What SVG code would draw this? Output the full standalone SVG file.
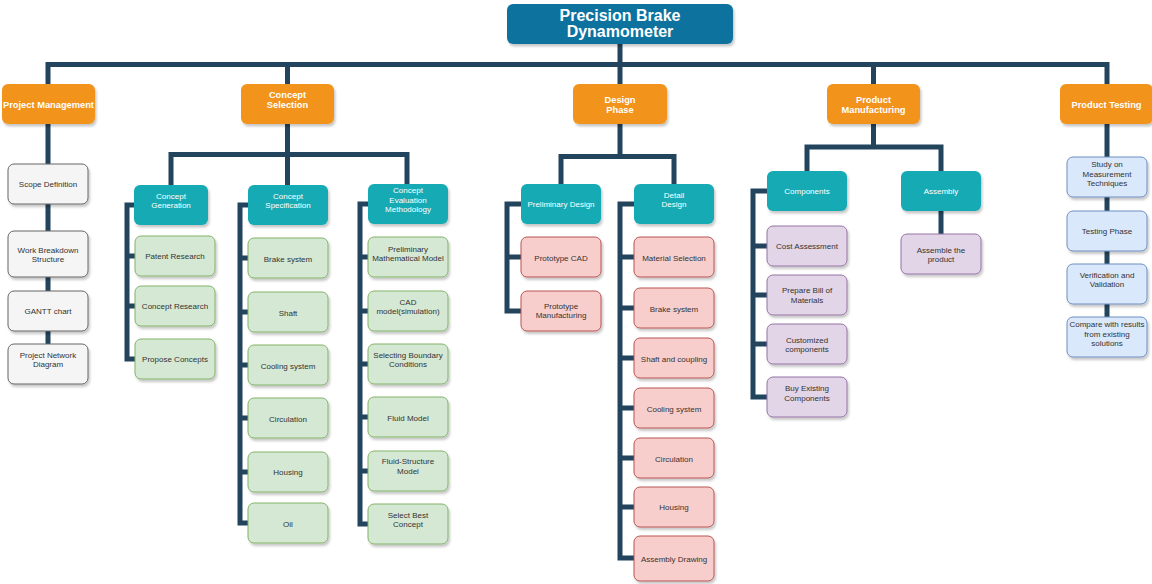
<svg xmlns="http://www.w3.org/2000/svg" width="1152" height="584" viewBox="0 0 1152 584">
<defs>
<filter id="sh" x="-10%" y="-10%" width="130%" height="140%">
<feDropShadow dx="1.5" dy="2.5" stdDeviation="1.2" flood-color="#000" flood-opacity="0.22"/>
</filter>
<style>
text{font-family:"Liberation Sans",Arial,Helvetica,sans-serif;text-anchor:middle}
.root rect{fill:#10739E;filter:url(#sh)}
.root text{fill:#fff;font-size:16px;font-weight:bold}
.l1 rect{fill:#F2931E;filter:url(#sh)}
.l1 text{fill:#fff;font-size:9.3px;font-weight:bold}
.l2 rect{fill:#12AAB5;filter:url(#sh)}
.l2 text{fill:#fff;font-size:8px}
.leaf text{fill:#333;font-size:8px}
.leaf rect{filter:url(#sh);stroke-width:1}
.g rect{fill:#f5f5f5;stroke:#666}
.gr rect{fill:#d5e8d4;stroke:#82b366}
.r rect{fill:#f8cecc;stroke:#b85450}
.p rect{fill:#e1d5e7;stroke:#9673a6}
.b rect{fill:#dae8fc;stroke:#6c8ebf}
#connectors path{fill:none;stroke:#23445D;stroke-width:5;stroke-linejoin:miter;stroke-linecap:butt}
</style>
</defs>
<rect width="1152" height="584" fill="#fff"/>
<g id="connectors">
<path d="M620,44 V84"/>
<path d="M48,84 V64.5 H1107 V84"/>
<path d="M287.5,64.5 V84 M873.5,64.5 V84"/>
<path d="M48,124 V344"/>
<path d="M287.5,124 V185"/>
<path d="M171,185 V154.5 H407 V184"/>
<path d="M134,205 H127 V359 H135 M127,256 H135 M127,306 H135"/>
<path d="M248,205 H240 V523 H248 M240,258 H248 M240,312 H248 M240,365 H248 M240,418 H248 M240,472 H248"/>
<path d="M368,204 H360 V524 H368 M360,257 H368 M360,311 H368 M360,364 H368 M360,417 H368 M360,471 H368"/>
<path d="M620,124 V156.5"/>
<path d="M561,184 V156.5 H674 V184"/>
<path d="M521,204 H507 V311 H521 M507,257 H521"/>
<path d="M634,204 H620 V558 H634 M620,257 H634 M620,308 H634 M620,358 H634 M620,408 H634 M620,458 H634 M620,507 H634"/>
<path d="M873.5,124 V147"/>
<path d="M807,171 V147 H941 V171"/>
<path d="M767,191 H753 V397 H767 M753,246 H767 M753,295 H767 M753,344 H767"/>
<path d="M941,211 V234"/>
<path d="M1107,124 V317"/>
</g>

<g id="root" class="root"><rect x="507" y="4" width="226" height="40" rx="6"/><text x="620" y="21">Precision Brake</text><text x="620" y="37">Dynamometer</text></g>

<g id="project-management" class="l1"><rect x="2" y="84" width="93" height="40" rx="6"/><text x="48.5" y="108">Project Management</text></g>
<g id="concept-selection" class="l1"><rect x="241" y="84" width="93" height="40" rx="6"/><text x="287.5" y="97.5">Concept</text><text x="287.5" y="108">Selection</text></g>
<g id="design-phase" class="l1"><rect x="573" y="84" width="94" height="40" rx="6"/><text x="620" y="102.5">Design</text><text x="620" y="113">Phase</text></g>
<g id="product-manufacturing" class="l1"><rect x="827" y="84" width="93" height="40" rx="6"/><text x="873.5" y="102.5">Product</text><text x="873.5" y="113">Manufacturing</text></g>
<g id="product-testing" class="l1"><rect x="1060" y="84" width="93" height="40" rx="6"/><text x="1106.5" y="108">Product Testing</text></g>

<g id="scope-definition" class="leaf g"><rect x="8" y="164" width="80" height="40" rx="6"/><text x="48" y="187">Scope Definition</text></g>
<g id="wbs" class="leaf g"><rect x="8" y="231" width="80" height="46" rx="6"/><text x="48" y="252.5">Work Breakdown</text><text x="48" y="262">Structure</text></g>
<g id="gantt" class="leaf g"><rect x="8" y="291" width="80" height="40" rx="6"/><text x="48" y="314">GANTT chart</text></g>
<g id="network" class="leaf g"><rect x="8" y="344" width="80" height="40" rx="6"/><text x="48" y="357.5">Project Network</text><text x="48" y="367">Diagram</text></g>

<g id="concept-generation" class="l2"><rect x="134" y="185" width="74" height="40" rx="6"/><text x="171" y="199">Concept</text><text x="171" y="208">Generation</text></g>
<g id="concept-specification" class="l2"><rect x="248" y="185" width="80" height="40" rx="6"/><text x="288" y="199">Concept</text><text x="288" y="208">Specification</text></g>
<g id="concept-evaluation" class="l2"><rect x="368" y="184" width="80" height="40" rx="6"/><text x="408" y="193">Concept</text><text x="408" y="202.5">Evaluation</text><text x="408" y="212">Methodology</text></g>

<g id="patent-research" class="leaf gr"><rect x="135" y="236" width="80" height="40" rx="6"/><text x="175" y="258.5">Patent Research</text></g>
<g id="concept-research" class="leaf gr"><rect x="135" y="286" width="80" height="40" rx="6"/><text x="175" y="308.5">Concept Research</text></g>
<g id="propose-concepts" class="leaf gr"><rect x="135" y="339" width="80" height="40" rx="6"/><text x="175" y="362">Propose Concepts</text></g>

<g id="cs-brake" class="leaf gr"><rect x="248" y="238" width="80" height="40" rx="6"/><text x="288" y="262">Brake system</text></g>
<g id="cs-shaft" class="leaf gr"><rect x="248" y="292" width="80" height="40" rx="6"/><text x="288" y="315.5">Shaft</text></g>
<g id="cs-cooling" class="leaf gr"><rect x="248" y="345" width="80" height="40" rx="6"/><text x="288" y="368.5">Cooling system</text></g>
<g id="cs-circulation" class="leaf gr"><rect x="248" y="398" width="80" height="40" rx="6"/><text x="288" y="421.5">Circulation</text></g>
<g id="cs-housing" class="leaf gr"><rect x="248" y="452" width="80" height="40" rx="6"/><text x="288" y="475">Housing</text></g>
<g id="cs-oil" class="leaf gr"><rect x="248" y="503" width="80" height="40" rx="6"/><text x="288" y="526.5">Oil</text></g>

<g id="ce-math" class="leaf gr"><rect x="368" y="237" width="80" height="40" rx="6"/><text x="408" y="251.5">Preliminary</text><text x="408" y="261">Mathematical Model</text></g>
<g id="ce-cad" class="leaf gr"><rect x="368" y="291" width="80" height="40" rx="6"/><text x="408" y="304.5">CAD</text><text x="408" y="314">model(simulation)</text></g>
<g id="ce-boundary" class="leaf gr"><rect x="368" y="344" width="80" height="40" rx="6"/><text x="408" y="358">Selecting Boundary</text><text x="408" y="367">Conditions</text></g>
<g id="ce-fluid" class="leaf gr"><rect x="368" y="397" width="80" height="40" rx="6"/><text x="408" y="420.5">Fluid Model</text></g>
<g id="ce-fsi" class="leaf gr"><rect x="368" y="451" width="80" height="40" rx="6"/><text x="408" y="464">Fluid-Structure</text><text x="408" y="473.5">Model</text></g>
<g id="ce-best" class="leaf gr"><rect x="368" y="504" width="80" height="40" rx="6"/><text x="408" y="518">Select Best</text><text x="408" y="527">Concept</text></g>

<g id="preliminary-design" class="l2"><rect x="521" y="184" width="80" height="40" rx="6"/><text x="561" y="207">Preliminary Design</text></g>
<g id="detail-design" class="l2"><rect x="634" y="184" width="80" height="40" rx="6"/><text x="674" y="198">Detail</text><text x="674" y="207">Design</text></g>

<g id="prototype-cad" class="leaf r"><rect x="521" y="237" width="80" height="40" rx="6"/><text x="561" y="260.5">Prototype CAD</text></g>
<g id="prototype-manufacturing" class="leaf r"><rect x="521" y="291" width="80" height="40" rx="6"/><text x="561" y="309">Prototype</text><text x="561" y="318">Manufacturing</text></g>

<g id="dd-material" class="leaf r"><rect x="634" y="237" width="80" height="40" rx="6"/><text x="674" y="260.5">Material Selection</text></g>
<g id="dd-brake" class="leaf r"><rect x="634" y="288" width="80" height="40" rx="6"/><text x="674" y="312">Brake system</text></g>
<g id="dd-shaft" class="leaf r"><rect x="634" y="338" width="80" height="40" rx="6"/><text x="674" y="362">Shaft and coupling</text></g>
<g id="dd-cooling" class="leaf r"><rect x="634" y="388" width="80" height="40" rx="6"/><text x="674" y="412">Cooling system</text></g>
<g id="dd-circulation" class="leaf r"><rect x="634" y="438" width="80" height="40" rx="6"/><text x="674" y="461.5">Circulation</text></g>
<g id="dd-housing" class="leaf r"><rect x="634" y="487" width="80" height="40" rx="6"/><text x="674" y="510">Housing</text></g>
<g id="dd-assembly" class="leaf r"><rect x="634" y="536" width="80" height="45" rx="6"/><text x="674" y="561.5">Assembly Drawing</text></g>

<g id="components" class="l2"><rect x="767" y="171" width="80" height="40" rx="6"/><text x="807" y="194">Components</text></g>
<g id="assembly" class="l2"><rect x="901" y="171" width="80" height="40" rx="6"/><text x="941" y="194">Assembly</text></g>

<g id="cost-assessment" class="leaf p"><rect x="767" y="226" width="80" height="40" rx="6"/><text x="807" y="249">Cost Assessment</text></g>
<g id="bill-of-materials" class="leaf p"><rect x="767" y="275" width="80" height="40" rx="6"/><text x="807" y="293">Prepare Bill of</text><text x="807" y="302.5">Materials</text></g>
<g id="customized" class="leaf p"><rect x="767" y="324" width="80" height="40" rx="6"/><text x="807" y="342.5">Customized</text><text x="807" y="352">components</text></g>
<g id="buy-existing" class="leaf p"><rect x="767" y="377" width="80" height="40" rx="6"/><text x="807" y="391">Buy Existing</text><text x="807" y="400.5">Components</text></g>
<g id="assemble-product" class="leaf p"><rect x="901" y="234" width="80" height="40" rx="6"/><text x="941" y="252.5">Assemble the</text><text x="941" y="262">product</text></g>

<g id="measurement" class="leaf b"><rect x="1067" y="157" width="80" height="40" rx="6"/><text x="1107" y="167">Study on</text><text x="1107" y="176.5">Measurement</text><text x="1107" y="186">Techniques</text></g>
<g id="testing-phase" class="leaf b"><rect x="1067" y="211" width="80" height="40" rx="6"/><text x="1107" y="234">Testing Phase</text></g>
<g id="verification" class="leaf b"><rect x="1067" y="264" width="80" height="40" rx="6"/><text x="1107" y="278">Verification and</text><text x="1107" y="287">Validation</text></g>
<g id="compare" class="leaf b"><rect x="1067" y="317" width="80" height="40" rx="6"/><text x="1107" y="327">Compare with results</text><text x="1107" y="336.5">from existing</text><text x="1107" y="345.5">solutions</text></g>
</svg>
